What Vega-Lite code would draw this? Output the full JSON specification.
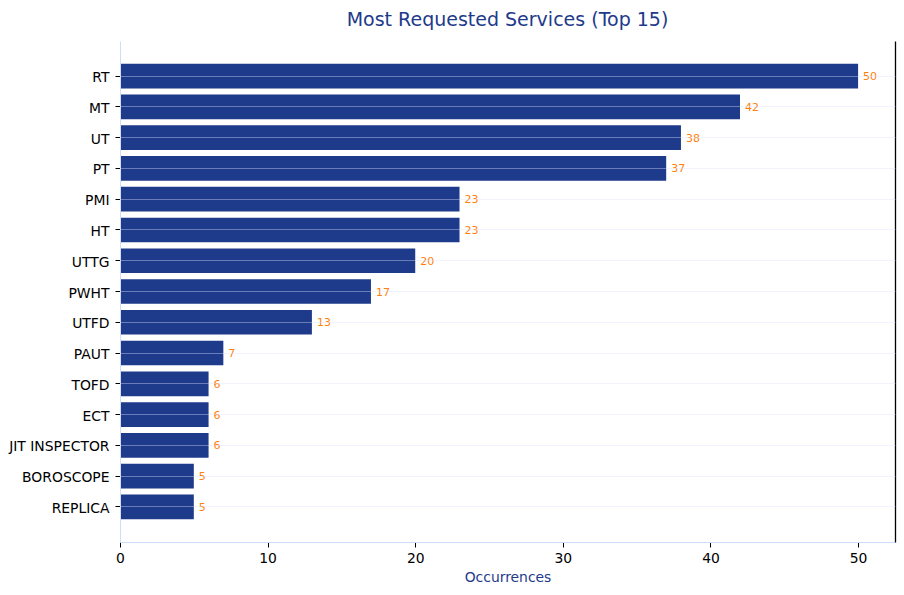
{
  "$schema": "https://vega.github.io/schema/vega-lite/v6.json",
  "width": 775,
  "height": 501,
  "autosize": {"type": "none"},
  "padding": {"left": 120, "top": 41, "right": 9, "bottom": 53},
  "background": "white",
  "config": {
    "view": {"stroke": null},
    "font": "DejaVu Sans"
  },
  "title": {
    "text": "Most Requested Services (Top 15)",
    "color": "#1e3a8a",
    "fontSize": 19,
    "fontWeight": "normal",
    "font": "DejaVu Sans",
    "anchor": "middle",
    "offset": 11
  },
  "data": {
    "values": [
      {"service": "RT", "count": 50},
      {"service": "MT", "count": 42},
      {"service": "UT", "count": 38},
      {"service": "PT", "count": 37},
      {"service": "PMI", "count": 23},
      {"service": "HT", "count": 23},
      {"service": "UTTG", "count": 20},
      {"service": "PWHT", "count": 17},
      {"service": "UTFD", "count": 13},
      {"service": "PAUT", "count": 7},
      {"service": "TOFD", "count": 6},
      {"service": "ECT", "count": 6},
      {"service": "JIT INSPECTOR", "count": 6},
      {"service": "BOROSCOPE", "count": 5},
      {"service": "REPLICA", "count": 5}
    ]
  },
  "encoding": {
    "y": {
      "field": "service",
      "type": "nominal",
      "sort": null,
      "scale": {"paddingInner": 0.2, "paddingOuter": 0.74}
    },
    "x": {
      "field": "count",
      "type": "quantitative",
      "scale": {"domain": [0, 52.5], "nice": false, "zero": true}
    }
  },
  "layer": [
    {
      "mark": {"type": "bar", "color": "#1e3a8a"},
      "encoding": {
        "y": {
          "field": "service",
          "type": "nominal",
          "sort": null,
          "axis": {
            "title": null,
            "orient": "left",
            "labelFontSize": 13.9,
            "labelColor": "#000000",
            "labelFont": "DejaVu Sans",
            "labelPadding": 6,
            "labelOffset": 2,
            "tickColor": "#000000",
            "tickSize": 5,
            "domainColor": "#cfdcfa",
            "grid": true,
            "gridColor": "#dbe4ff",
            "gridOpacity": 0.4,
            "bandPosition": 0.5,
            "zindex": 1
          }
        },
        "x": {
          "field": "count",
          "type": "quantitative",
          "axis": {
            "title": "Occurrences",
            "titleColor": "#1e3a8a",
            "titleFontSize": 13.9,
            "titleFontWeight": "normal",
            "titleFont": "DejaVu Sans",
            "titlePadding": 6,
            "values": [0, 10, 20, 30, 40, 50],
            "labelFontSize": 13.9,
            "labelColor": "#000000",
            "labelFont": "DejaVu Sans",
            "labelPadding": 4,
            "labelFlush": false,
            "tickColor": "#000000",
            "tickSize": 5,
            "domainColor": "#cfdcfa",
            "grid": false
          }
        }
      }
    },
    {
      "mark": {"type": "text", "align": "left", "baseline": "middle", "dx": 5, "dy": 1, "color": "#ff7f0e", "fontSize": 11, "font": "DejaVu Sans"},
      "encoding": {
        "text": {"field": "count", "type": "quantitative"},
        "y": {
          "field": "service",
          "type": "nominal",
          "sort": null,
          "axis": {
            "orient": "right",
            "title": null,
            "labels": false,
            "ticks": false,
            "grid": false,
            "domainColor": "#000000",
            "domainWidth": 1.3
          }
        }
      }
    }
  ],
  "resolve": {"axis": {"y": "independent"}}
}
